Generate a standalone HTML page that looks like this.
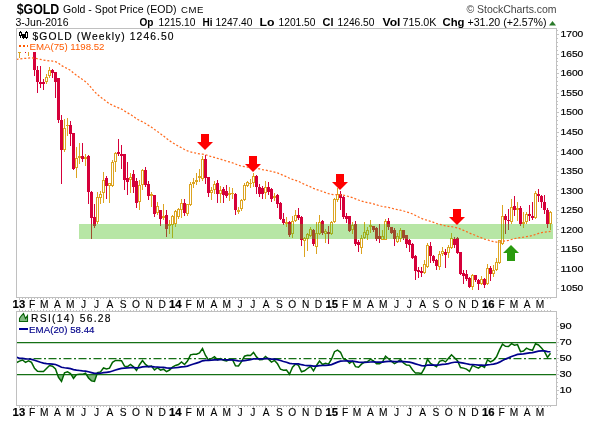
<!DOCTYPE html><html><head><meta charset="utf-8"><style>html,body{margin:0;padding:0;background:#fff;width:600px;height:421px;overflow:hidden}svg{display:block;will-change:transform}text{font-family:"Liberation Sans",sans-serif}</style></head><body>
<svg width="600" height="421" viewBox="0 0 600 421">
<defs><clipPath id="cm"><rect x="17" y="29" width="539" height="268"/></clipPath><clipPath id="cr"><rect x="17" y="312" width="539" height="93"/></clipPath></defs>
<g clip-path="url(#cm)" shape-rendering="crispEdges"><rect x="19" y="40" width="1" height="5" fill="#dca421"/><rect x="19" y="53" width="1" height="5" fill="#dca421"/><path d="M18.5,45.5h2v7h-2z" fill="none" stroke="#dca421" stroke-width="1"/><rect x="22" y="40" width="1" height="2" fill="#dca421"/><rect x="22" y="48" width="1" height="2" fill="#dca421"/><path d="M21.5,42.5h2v5h-2z" fill="none" stroke="#dca421" stroke-width="1"/><rect x="25" y="40" width="1" height="13" fill="#d5003a"/><rect x="24" y="44" width="3" height="5" fill="#d5003a"/><rect x="28" y="40" width="1" height="5" fill="#dca421"/><rect x="28" y="50" width="1" height="6" fill="#dca421"/><path d="M27.5,45.5h2v4h-2z" fill="none" stroke="#dca421" stroke-width="1"/><rect x="31" y="40" width="1" height="11" fill="#d5003a"/><rect x="30" y="44" width="3" height="5" fill="#d5003a"/><rect x="34" y="40" width="1" height="36" fill="#d5003a"/><rect x="33" y="45" width="3" height="25" fill="#d5003a"/><rect x="37" y="66" width="1" height="27" fill="#d5003a"/><rect x="36" y="70" width="3" height="12" fill="#d5003a"/><rect x="40" y="66" width="1" height="22" fill="#d5003a"/><rect x="39" y="82" width="3" height="2" fill="#d5003a"/><rect x="43" y="79" width="1" height="11" fill="#d5003a"/><rect x="42" y="82" width="3" height="2" fill="#d5003a"/><rect x="46" y="74" width="1" height="3" fill="#dca421"/><rect x="46" y="82" width="1" height="2" fill="#dca421"/><path d="M45.5,77.5h2v4h-2z" fill="none" stroke="#dca421" stroke-width="1"/><rect x="49" y="67" width="1" height="3" fill="#dca421"/><rect x="49" y="76" width="1" height="2" fill="#dca421"/><path d="M48.5,70.5h2v5h-2z" fill="none" stroke="#dca421" stroke-width="1"/><rect x="52" y="69" width="1" height="9" fill="#d5003a"/><rect x="51" y="70" width="3" height="3" fill="#d5003a"/><rect x="55" y="72" width="1" height="26" fill="#d5003a"/><rect x="54" y="72" width="3" height="10" fill="#d5003a"/><rect x="58" y="78" width="1" height="45" fill="#d5003a"/><rect x="57" y="78" width="3" height="42" fill="#d5003a"/><rect x="61" y="115" width="1" height="69" fill="#d5003a"/><rect x="60" y="120" width="3" height="30" fill="#d5003a"/><rect x="64" y="119" width="1" height="9" fill="#dca421"/><rect x="64" y="150" width="1" height="2" fill="#dca421"/><path d="M63.5,128.5h2v21h-2z" fill="none" stroke="#dca421" stroke-width="1"/><rect x="67" y="118" width="1" height="7" fill="#dca421"/><rect x="67" y="126" width="1" height="10" fill="#dca421"/><rect x="66" y="125" width="3" height="1" fill="#dca421"/><rect x="70" y="121" width="1" height="25" fill="#d5003a"/><rect x="69" y="125" width="3" height="9" fill="#d5003a"/><rect x="73" y="133" width="1" height="37" fill="#d5003a"/><rect x="72" y="133" width="3" height="36" fill="#d5003a"/><rect x="76" y="147" width="1" height="11" fill="#dca421"/><rect x="76" y="168" width="1" height="10" fill="#dca421"/><path d="M75.5,158.5h2v9h-2z" fill="none" stroke="#dca421" stroke-width="1"/><rect x="79" y="143" width="1" height="13" fill="#dca421"/><rect x="79" y="158" width="1" height="6" fill="#dca421"/><rect x="78" y="156" width="3" height="2" fill="#dca421"/><rect x="82" y="143" width="1" height="19" fill="#d5003a"/><rect x="81" y="156" width="3" height="3" fill="#d5003a"/><rect x="85" y="154" width="1" height="3" fill="#dca421"/><rect x="85" y="159" width="1" height="7" fill="#dca421"/><rect x="84" y="157" width="3" height="2" fill="#dca421"/><rect x="88" y="155" width="1" height="49" fill="#d5003a"/><rect x="87" y="156" width="3" height="36" fill="#d5003a"/><rect x="91" y="191" width="1" height="48" fill="#d5003a"/><rect x="90" y="192" width="3" height="26" fill="#d5003a"/><rect x="94" y="204" width="1" height="24" fill="#d5003a"/><rect x="93" y="217" width="3" height="9" fill="#d5003a"/><rect x="97" y="192" width="1" height="5" fill="#dca421"/><rect x="97" y="222" width="1" height="2" fill="#dca421"/><path d="M96.5,197.5h2v24h-2z" fill="none" stroke="#dca421" stroke-width="1"/><rect x="100" y="191" width="1" height="3" fill="#dca421"/><rect x="100" y="198" width="1" height="6" fill="#dca421"/><path d="M99.5,194.5h2v3h-2z" fill="none" stroke="#dca421" stroke-width="1"/><rect x="103" y="172" width="1" height="8" fill="#dca421"/><rect x="103" y="193" width="1" height="10" fill="#dca421"/><path d="M102.5,180.5h2v12h-2z" fill="none" stroke="#dca421" stroke-width="1"/><rect x="106" y="176" width="1" height="23" fill="#d5003a"/><rect x="105" y="178" width="3" height="8" fill="#d5003a"/><rect x="109" y="186" width="1" height="17" fill="#dca421"/><path d="M108.5,183.5h2v2h-2z" fill="none" stroke="#dca421" stroke-width="1"/><rect x="112" y="160" width="1" height="2" fill="#dca421"/><rect x="112" y="186" width="1" height="1" fill="#dca421"/><path d="M111.5,162.5h2v23h-2z" fill="none" stroke="#dca421" stroke-width="1"/><rect x="115" y="152" width="1" height="1" fill="#dca421"/><rect x="115" y="162" width="1" height="10" fill="#dca421"/><path d="M114.5,153.5h2v8h-2z" fill="none" stroke="#dca421" stroke-width="1"/><rect x="118" y="139" width="1" height="17" fill="#d5003a"/><rect x="117" y="152" width="3" height="2" fill="#d5003a"/><rect x="121" y="145" width="1" height="24" fill="#d5003a"/><rect x="120" y="154" width="3" height="2" fill="#d5003a"/><rect x="124" y="154" width="1" height="36" fill="#d5003a"/><rect x="123" y="154" width="3" height="26" fill="#d5003a"/><rect x="127" y="162" width="1" height="33" fill="#d5003a"/><rect x="126" y="178" width="3" height="4" fill="#d5003a"/><rect x="130" y="173" width="1" height="4" fill="#dca421"/><rect x="130" y="180" width="1" height="13" fill="#dca421"/><path d="M129.5,177.5h2v2h-2z" fill="none" stroke="#dca421" stroke-width="1"/><rect x="133" y="170" width="1" height="23" fill="#d5003a"/><rect x="132" y="174" width="3" height="13" fill="#d5003a"/><rect x="136" y="178" width="1" height="30" fill="#d5003a"/><rect x="135" y="181" width="3" height="22" fill="#d5003a"/><rect x="139" y="180" width="1" height="5" fill="#dca421"/><rect x="139" y="202" width="1" height="8" fill="#dca421"/><path d="M138.5,185.5h2v16h-2z" fill="none" stroke="#dca421" stroke-width="1"/><rect x="142" y="169" width="1" height="1" fill="#dca421"/><rect x="142" y="185" width="1" height="5" fill="#dca421"/><path d="M141.5,170.5h2v14h-2z" fill="none" stroke="#dca421" stroke-width="1"/><rect x="145" y="167" width="1" height="20" fill="#d5003a"/><rect x="144" y="170" width="3" height="15" fill="#d5003a"/><rect x="148" y="181" width="1" height="19" fill="#d5003a"/><rect x="147" y="184" width="3" height="12" fill="#d5003a"/><rect x="151" y="192" width="1" height="2" fill="#dca421"/><rect x="151" y="196" width="1" height="11" fill="#dca421"/><rect x="150" y="194" width="3" height="2" fill="#dca421"/><rect x="154" y="195" width="1" height="22" fill="#d5003a"/><rect x="153" y="195" width="3" height="19" fill="#d5003a"/><rect x="157" y="202" width="1" height="4" fill="#dca421"/><rect x="157" y="213" width="1" height="2" fill="#dca421"/><path d="M156.5,206.5h2v6h-2z" fill="none" stroke="#dca421" stroke-width="1"/><rect x="160" y="210" width="1" height="16" fill="#d5003a"/><rect x="159" y="210" width="3" height="9" fill="#d5003a"/><rect x="163" y="204" width="1" height="12" fill="#dca421"/><rect x="163" y="218" width="1" height="2" fill="#dca421"/><rect x="162" y="216" width="3" height="2" fill="#dca421"/><rect x="166" y="210" width="1" height="27" fill="#d5003a"/><rect x="165" y="215" width="3" height="14" fill="#d5003a"/><rect x="169" y="220" width="1" height="4" fill="#dca421"/><rect x="169" y="226" width="1" height="8" fill="#dca421"/><rect x="168" y="224" width="3" height="2" fill="#dca421"/><rect x="172" y="215" width="1" height="1" fill="#dca421"/><rect x="172" y="225" width="1" height="13" fill="#dca421"/><path d="M171.5,216.5h2v8h-2z" fill="none" stroke="#dca421" stroke-width="1"/><rect x="175" y="210" width="1" height="1" fill="#dca421"/><rect x="175" y="224" width="1" height="3" fill="#dca421"/><path d="M174.5,211.5h2v12h-2z" fill="none" stroke="#dca421" stroke-width="1"/><rect x="178" y="208" width="1" height="1" fill="#dca421"/><rect x="178" y="217" width="1" height="2" fill="#dca421"/><path d="M177.5,209.5h2v7h-2z" fill="none" stroke="#dca421" stroke-width="1"/><rect x="181" y="199" width="1" height="4" fill="#dca421"/><rect x="181" y="210" width="1" height="8" fill="#dca421"/><path d="M180.5,203.5h2v6h-2z" fill="none" stroke="#dca421" stroke-width="1"/><rect x="184" y="199" width="1" height="17" fill="#d5003a"/><rect x="183" y="203" width="3" height="10" fill="#d5003a"/><rect x="187" y="214" width="1" height="2" fill="#dca421"/><path d="M186.5,204.5h2v9h-2z" fill="none" stroke="#dca421" stroke-width="1"/><rect x="190" y="182" width="1" height="2" fill="#dca421"/><rect x="190" y="205" width="1" height="1" fill="#dca421"/><path d="M189.5,184.5h2v20h-2z" fill="none" stroke="#dca421" stroke-width="1"/><rect x="193" y="178" width="1" height="4" fill="#dca421"/><rect x="193" y="184" width="1" height="4" fill="#dca421"/><rect x="192" y="182" width="3" height="2" fill="#dca421"/><rect x="196" y="173" width="1" height="7" fill="#dca421"/><rect x="196" y="182" width="1" height="3" fill="#dca421"/><rect x="195" y="180" width="3" height="2" fill="#dca421"/><rect x="199" y="169" width="1" height="7" fill="#dca421"/><rect x="199" y="178" width="1" height="4" fill="#dca421"/><rect x="198" y="176" width="3" height="2" fill="#dca421"/><rect x="202" y="156" width="1" height="3" fill="#dca421"/><rect x="202" y="179" width="1" height="2" fill="#dca421"/><path d="M201.5,159.5h2v19h-2z" fill="none" stroke="#dca421" stroke-width="1"/><rect x="205" y="155" width="1" height="29" fill="#d5003a"/><rect x="204" y="159" width="3" height="19" fill="#d5003a"/><rect x="208" y="177" width="1" height="20" fill="#d5003a"/><rect x="207" y="177" width="3" height="16" fill="#d5003a"/><rect x="211" y="187" width="1" height="3" fill="#dca421"/><rect x="211" y="193" width="1" height="7" fill="#dca421"/><path d="M210.5,190.5h2v2h-2z" fill="none" stroke="#dca421" stroke-width="1"/><rect x="214" y="181" width="1" height="3" fill="#dca421"/><rect x="214" y="190" width="1" height="4" fill="#dca421"/><path d="M213.5,184.5h2v5h-2z" fill="none" stroke="#dca421" stroke-width="1"/><rect x="217" y="180" width="1" height="23" fill="#d5003a"/><rect x="216" y="183" width="3" height="11" fill="#d5003a"/><rect x="220" y="186" width="1" height="4" fill="#dca421"/><rect x="220" y="194" width="1" height="9" fill="#dca421"/><path d="M219.5,190.5h2v3h-2z" fill="none" stroke="#dca421" stroke-width="1"/><rect x="223" y="187" width="1" height="16" fill="#d5003a"/><rect x="222" y="189" width="3" height="6" fill="#d5003a"/><rect x="226" y="185" width="1" height="13" fill="#d5003a"/><rect x="225" y="191" width="3" height="5" fill="#d5003a"/><rect x="229" y="187" width="1" height="6" fill="#dca421"/><rect x="229" y="195" width="1" height="6" fill="#dca421"/><rect x="228" y="193" width="3" height="2" fill="#dca421"/><rect x="232" y="188" width="1" height="5" fill="#dca421"/><rect x="232" y="194" width="1" height="5" fill="#dca421"/><rect x="231" y="193" width="3" height="1" fill="#dca421"/><rect x="235" y="193" width="1" height="22" fill="#d5003a"/><rect x="234" y="194" width="3" height="16" fill="#d5003a"/><rect x="238" y="207" width="1" height="3" fill="#dca421"/><rect x="238" y="212" width="1" height="2" fill="#dca421"/><rect x="237" y="210" width="3" height="2" fill="#dca421"/><rect x="241" y="199" width="1" height="1" fill="#dca421"/><rect x="241" y="209" width="1" height="2" fill="#dca421"/><path d="M240.5,200.5h2v8h-2z" fill="none" stroke="#dca421" stroke-width="1"/><rect x="244" y="183" width="1" height="2" fill="#dca421"/><rect x="244" y="200" width="1" height="1" fill="#dca421"/><path d="M243.5,185.5h2v14h-2z" fill="none" stroke="#dca421" stroke-width="1"/><rect x="247" y="181" width="1" height="1" fill="#dca421"/><rect x="247" y="186" width="1" height="1" fill="#dca421"/><path d="M246.5,182.5h2v3h-2z" fill="none" stroke="#dca421" stroke-width="1"/><rect x="250" y="179" width="1" height="4" fill="#dca421"/><rect x="250" y="184" width="1" height="4" fill="#dca421"/><rect x="249" y="183" width="3" height="1" fill="#dca421"/><rect x="253" y="173" width="1" height="3" fill="#dca421"/><rect x="253" y="183" width="1" height="4" fill="#dca421"/><path d="M252.5,176.5h2v6h-2z" fill="none" stroke="#dca421" stroke-width="1"/><rect x="256" y="175" width="1" height="19" fill="#d5003a"/><rect x="255" y="176" width="3" height="11" fill="#d5003a"/><rect x="259" y="184" width="1" height="13" fill="#d5003a"/><rect x="258" y="187" width="3" height="7" fill="#d5003a"/><rect x="262" y="186" width="1" height="13" fill="#d5003a"/><rect x="261" y="188" width="3" height="6" fill="#d5003a"/><rect x="265" y="181" width="1" height="6" fill="#dca421"/><rect x="265" y="193" width="1" height="6" fill="#dca421"/><path d="M264.5,187.5h2v5h-2z" fill="none" stroke="#dca421" stroke-width="1"/><rect x="268" y="182" width="1" height="13" fill="#d5003a"/><rect x="267" y="187" width="3" height="5" fill="#d5003a"/><rect x="271" y="188" width="1" height="14" fill="#d5003a"/><rect x="270" y="189" width="3" height="10" fill="#d5003a"/><rect x="274" y="193" width="1" height="3" fill="#dca421"/><rect x="274" y="198" width="1" height="3" fill="#dca421"/><rect x="273" y="196" width="3" height="2" fill="#dca421"/><rect x="277" y="194" width="1" height="14" fill="#d5003a"/><rect x="276" y="195" width="3" height="9" fill="#d5003a"/><rect x="280" y="202" width="1" height="18" fill="#d5003a"/><rect x="279" y="203" width="3" height="16" fill="#d5003a"/><rect x="283" y="213" width="1" height="12" fill="#d5003a"/><rect x="282" y="219" width="3" height="4" fill="#d5003a"/><rect x="286" y="217" width="1" height="5" fill="#dca421"/><rect x="286" y="224" width="1" height="3" fill="#dca421"/><rect x="285" y="222" width="3" height="2" fill="#dca421"/><rect x="289" y="221" width="1" height="16" fill="#d5003a"/><rect x="288" y="222" width="3" height="13" fill="#d5003a"/><rect x="292" y="216" width="1" height="5" fill="#dca421"/><rect x="292" y="234" width="1" height="4" fill="#dca421"/><path d="M291.5,221.5h2v12h-2z" fill="none" stroke="#dca421" stroke-width="1"/><rect x="295" y="210" width="1" height="5" fill="#dca421"/><rect x="295" y="221" width="1" height="1" fill="#dca421"/><path d="M294.5,215.5h2v5h-2z" fill="none" stroke="#dca421" stroke-width="1"/><rect x="298" y="208" width="1" height="12" fill="#d5003a"/><rect x="297" y="215" width="3" height="3" fill="#d5003a"/><rect x="301" y="216" width="1" height="30" fill="#d5003a"/><rect x="300" y="217" width="3" height="23" fill="#d5003a"/><rect x="304" y="237" width="1" height="1" fill="#dca421"/><rect x="304" y="241" width="1" height="16" fill="#dca421"/><path d="M303.5,238.5h2v2h-2z" fill="none" stroke="#dca421" stroke-width="1"/><rect x="307" y="233" width="1" height="1" fill="#dca421"/><rect x="307" y="239" width="1" height="12" fill="#dca421"/><path d="M306.5,234.5h2v4h-2z" fill="none" stroke="#dca421" stroke-width="1"/><rect x="310" y="227" width="1" height="2" fill="#dca421"/><rect x="310" y="236" width="1" height="1" fill="#dca421"/><path d="M309.5,229.5h2v6h-2z" fill="none" stroke="#dca421" stroke-width="1"/><rect x="313" y="229" width="1" height="17" fill="#d5003a"/><rect x="312" y="230" width="3" height="14" fill="#d5003a"/><rect x="316" y="222" width="1" height="11" fill="#dca421"/><rect x="316" y="247" width="1" height="7" fill="#dca421"/><path d="M315.5,233.5h2v13h-2z" fill="none" stroke="#dca421" stroke-width="1"/><rect x="319" y="215" width="1" height="7" fill="#dca421"/><rect x="319" y="234" width="1" height="1" fill="#dca421"/><path d="M318.5,222.5h2v11h-2z" fill="none" stroke="#dca421" stroke-width="1"/><rect x="322" y="220" width="1" height="15" fill="#d5003a"/><rect x="321" y="221" width="3" height="12" fill="#d5003a"/><rect x="325" y="229" width="1" height="2" fill="#dca421"/><rect x="325" y="234" width="1" height="9" fill="#dca421"/><path d="M324.5,231.5h2v2h-2z" fill="none" stroke="#dca421" stroke-width="1"/><rect x="328" y="226" width="1" height="18" fill="#d5003a"/><rect x="327" y="232" width="3" height="2" fill="#d5003a"/><rect x="331" y="221" width="1" height="1" fill="#dca421"/><rect x="331" y="234" width="1" height="1" fill="#dca421"/><path d="M330.5,222.5h2v11h-2z" fill="none" stroke="#dca421" stroke-width="1"/><rect x="334" y="198" width="1" height="1" fill="#dca421"/><rect x="334" y="222" width="1" height="1" fill="#dca421"/><path d="M333.5,199.5h2v22h-2z" fill="none" stroke="#dca421" stroke-width="1"/><rect x="337" y="188" width="1" height="6" fill="#dca421"/><rect x="337" y="200" width="1" height="2" fill="#dca421"/><path d="M336.5,194.5h2v5h-2z" fill="none" stroke="#dca421" stroke-width="1"/><rect x="340" y="191" width="1" height="19" fill="#d5003a"/><rect x="339" y="194" width="3" height="4" fill="#d5003a"/><rect x="343" y="196" width="1" height="23" fill="#d5003a"/><rect x="342" y="197" width="3" height="20" fill="#d5003a"/><rect x="346" y="213" width="1" height="10" fill="#d5003a"/><rect x="345" y="216" width="3" height="3" fill="#d5003a"/><rect x="349" y="216" width="1" height="16" fill="#d5003a"/><rect x="348" y="216" width="3" height="15" fill="#d5003a"/><rect x="352" y="222" width="1" height="3" fill="#dca421"/><rect x="352" y="230" width="1" height="4" fill="#dca421"/><path d="M351.5,225.5h2v4h-2z" fill="none" stroke="#dca421" stroke-width="1"/><rect x="355" y="221" width="1" height="25" fill="#d5003a"/><rect x="354" y="224" width="3" height="20" fill="#d5003a"/><rect x="358" y="240" width="1" height="12" fill="#d5003a"/><rect x="357" y="242" width="3" height="3" fill="#d5003a"/><rect x="361" y="235" width="1" height="3" fill="#dca421"/><rect x="361" y="248" width="1" height="6" fill="#dca421"/><path d="M360.5,238.5h2v9h-2z" fill="none" stroke="#dca421" stroke-width="1"/><rect x="364" y="222" width="1" height="10" fill="#dca421"/><rect x="364" y="238" width="1" height="1" fill="#dca421"/><path d="M363.5,232.5h2v5h-2z" fill="none" stroke="#dca421" stroke-width="1"/><rect x="367" y="227" width="1" height="3" fill="#dca421"/><rect x="367" y="235" width="1" height="5" fill="#dca421"/><path d="M366.5,230.5h2v4h-2z" fill="none" stroke="#dca421" stroke-width="1"/><rect x="370" y="220" width="1" height="5" fill="#dca421"/><rect x="370" y="227" width="1" height="6" fill="#dca421"/><rect x="369" y="225" width="3" height="2" fill="#dca421"/><rect x="373" y="226" width="1" height="6" fill="#d5003a"/><rect x="372" y="226" width="3" height="4" fill="#d5003a"/><rect x="376" y="227" width="1" height="14" fill="#d5003a"/><rect x="375" y="228" width="3" height="11" fill="#d5003a"/><rect x="379" y="224" width="1" height="19" fill="#d5003a"/><rect x="378" y="236" width="3" height="3" fill="#d5003a"/><rect x="382" y="230" width="1" height="6" fill="#dca421"/><path d="M381.5,236.5h2v3h-2z" fill="none" stroke="#dca421" stroke-width="1"/><rect x="385" y="219" width="1" height="2" fill="#dca421"/><path d="M384.5,221.5h2v18h-2z" fill="none" stroke="#dca421" stroke-width="1"/><rect x="388" y="218" width="1" height="12" fill="#d5003a"/><rect x="387" y="221" width="3" height="6" fill="#d5003a"/><rect x="391" y="227" width="1" height="7" fill="#d5003a"/><rect x="390" y="227" width="3" height="6" fill="#d5003a"/><rect x="394" y="228" width="1" height="18" fill="#d5003a"/><rect x="393" y="230" width="3" height="9" fill="#d5003a"/><rect x="397" y="233" width="1" height="3" fill="#dca421"/><rect x="397" y="242" width="1" height="1" fill="#dca421"/><path d="M396.5,236.5h2v5h-2z" fill="none" stroke="#dca421" stroke-width="1"/><rect x="400" y="228" width="1" height="2" fill="#dca421"/><rect x="400" y="239" width="1" height="3" fill="#dca421"/><path d="M399.5,230.5h2v8h-2z" fill="none" stroke="#dca421" stroke-width="1"/><rect x="403" y="230" width="1" height="10" fill="#d5003a"/><rect x="402" y="230" width="3" height="8" fill="#d5003a"/><rect x="406" y="235" width="1" height="13" fill="#d5003a"/><rect x="405" y="235" width="3" height="9" fill="#d5003a"/><rect x="409" y="239" width="1" height="13" fill="#d5003a"/><rect x="408" y="240" width="3" height="5" fill="#d5003a"/><rect x="412" y="243" width="1" height="16" fill="#d5003a"/><rect x="411" y="244" width="3" height="14" fill="#d5003a"/><rect x="415" y="255" width="1" height="25" fill="#d5003a"/><rect x="414" y="256" width="3" height="15" fill="#d5003a"/><rect x="418" y="267" width="1" height="11" fill="#d5003a"/><rect x="417" y="270" width="3" height="2" fill="#d5003a"/><rect x="421" y="267" width="1" height="10" fill="#d5003a"/><rect x="420" y="271" width="3" height="2" fill="#d5003a"/><rect x="424" y="260" width="1" height="4" fill="#dca421"/><rect x="424" y="273" width="1" height="1" fill="#dca421"/><path d="M423.5,264.5h2v8h-2z" fill="none" stroke="#dca421" stroke-width="1"/><rect x="427" y="243" width="1" height="2" fill="#dca421"/><rect x="427" y="267" width="1" height="1" fill="#dca421"/><path d="M426.5,245.5h2v21h-2z" fill="none" stroke="#dca421" stroke-width="1"/><rect x="430" y="242" width="1" height="21" fill="#d5003a"/><rect x="429" y="246" width="3" height="10" fill="#d5003a"/><rect x="433" y="255" width="1" height="8" fill="#d5003a"/><rect x="432" y="256" width="3" height="5" fill="#d5003a"/><rect x="436" y="259" width="1" height="11" fill="#d5003a"/><rect x="435" y="260" width="3" height="6" fill="#d5003a"/><rect x="439" y="251" width="1" height="3" fill="#dca421"/><rect x="439" y="267" width="1" height="3" fill="#dca421"/><path d="M438.5,254.5h2v12h-2z" fill="none" stroke="#dca421" stroke-width="1"/><rect x="442" y="247" width="1" height="4" fill="#dca421"/><rect x="442" y="254" width="1" height="2" fill="#dca421"/><path d="M441.5,251.5h2v2h-2z" fill="none" stroke="#dca421" stroke-width="1"/><rect x="445" y="249" width="1" height="19" fill="#d5003a"/><rect x="444" y="252" width="3" height="3" fill="#d5003a"/><rect x="448" y="245" width="1" height="2" fill="#dca421"/><rect x="448" y="253" width="1" height="5" fill="#dca421"/><path d="M447.5,247.5h2v5h-2z" fill="none" stroke="#dca421" stroke-width="1"/><rect x="451" y="233" width="1" height="5" fill="#dca421"/><rect x="451" y="248" width="1" height="1" fill="#dca421"/><path d="M450.5,238.5h2v9h-2z" fill="none" stroke="#dca421" stroke-width="1"/><rect x="454" y="237" width="1" height="11" fill="#d5003a"/><rect x="453" y="239" width="3" height="6" fill="#d5003a"/><rect x="457" y="237" width="1" height="17" fill="#d5003a"/><rect x="456" y="238" width="3" height="15" fill="#d5003a"/><rect x="460" y="252" width="1" height="23" fill="#d5003a"/><rect x="459" y="252" width="3" height="22" fill="#d5003a"/><rect x="463" y="270" width="1" height="14" fill="#d5003a"/><rect x="462" y="273" width="3" height="3" fill="#d5003a"/><rect x="466" y="270" width="1" height="11" fill="#d5003a"/><rect x="465" y="274" width="3" height="5" fill="#d5003a"/><rect x="469" y="277" width="1" height="11" fill="#d5003a"/><rect x="468" y="278" width="3" height="9" fill="#d5003a"/><rect x="472" y="274" width="1" height="1" fill="#dca421"/><rect x="472" y="287" width="1" height="3" fill="#dca421"/><path d="M471.5,275.5h2v11h-2z" fill="none" stroke="#dca421" stroke-width="1"/><rect x="475" y="275" width="1" height="7" fill="#d5003a"/><rect x="474" y="275" width="3" height="5" fill="#d5003a"/><rect x="478" y="279" width="1" height="11" fill="#d5003a"/><rect x="477" y="280" width="3" height="4" fill="#d5003a"/><rect x="481" y="276" width="1" height="3" fill="#dca421"/><rect x="481" y="284" width="1" height="1" fill="#dca421"/><path d="M480.5,279.5h2v4h-2z" fill="none" stroke="#dca421" stroke-width="1"/><rect x="484" y="278" width="1" height="10" fill="#d5003a"/><rect x="483" y="279" width="3" height="6" fill="#d5003a"/><rect x="487" y="264" width="1" height="4" fill="#dca421"/><rect x="487" y="284" width="1" height="1" fill="#dca421"/><path d="M486.5,268.5h2v15h-2z" fill="none" stroke="#dca421" stroke-width="1"/><rect x="490" y="266" width="1" height="15" fill="#d5003a"/><rect x="489" y="268" width="3" height="6" fill="#d5003a"/><rect x="493" y="265" width="1" height="5" fill="#dca421"/><rect x="493" y="274" width="1" height="3" fill="#dca421"/><path d="M492.5,270.5h2v3h-2z" fill="none" stroke="#dca421" stroke-width="1"/><rect x="496" y="258" width="1" height="4" fill="#dca421"/><rect x="496" y="270" width="1" height="1" fill="#dca421"/><path d="M495.5,262.5h2v7h-2z" fill="none" stroke="#dca421" stroke-width="1"/><rect x="499" y="263" width="1" height="1" fill="#dca421"/><path d="M498.5,240.5h2v22h-2z" fill="none" stroke="#dca421" stroke-width="1"/><rect x="502" y="205" width="1" height="11" fill="#dca421"/><rect x="502" y="244" width="1" height="1" fill="#dca421"/><path d="M501.5,216.5h2v27h-2z" fill="none" stroke="#dca421" stroke-width="1"/><rect x="505" y="214" width="1" height="20" fill="#d5003a"/><rect x="504" y="216" width="3" height="4" fill="#d5003a"/><rect x="508" y="209" width="1" height="21" fill="#d5003a"/><rect x="507" y="220" width="3" height="1" fill="#d5003a"/><rect x="511" y="199" width="1" height="8" fill="#dca421"/><rect x="511" y="222" width="1" height="2" fill="#dca421"/><path d="M510.5,207.5h2v14h-2z" fill="none" stroke="#dca421" stroke-width="1"/><rect x="514" y="196" width="1" height="20" fill="#d5003a"/><rect x="513" y="206" width="3" height="4" fill="#d5003a"/><rect x="517" y="202" width="1" height="6" fill="#dca421"/><rect x="517" y="210" width="1" height="11" fill="#dca421"/><rect x="516" y="208" width="3" height="2" fill="#dca421"/><rect x="520" y="206" width="1" height="20" fill="#d5003a"/><rect x="519" y="208" width="3" height="16" fill="#d5003a"/><rect x="523" y="212" width="1" height="10" fill="#dca421"/><rect x="523" y="224" width="1" height="4" fill="#dca421"/><rect x="522" y="222" width="3" height="2" fill="#dca421"/><rect x="526" y="212" width="1" height="2" fill="#dca421"/><rect x="526" y="222" width="1" height="2" fill="#dca421"/><path d="M525.5,214.5h2v7h-2z" fill="none" stroke="#dca421" stroke-width="1"/><rect x="529" y="205" width="1" height="16" fill="#d5003a"/><rect x="528" y="214" width="3" height="2" fill="#d5003a"/><rect x="532" y="202" width="1" height="18" fill="#d5003a"/><rect x="531" y="216" width="3" height="2" fill="#d5003a"/><rect x="535" y="191" width="1" height="2" fill="#dca421"/><rect x="535" y="218" width="1" height="1" fill="#dca421"/><path d="M534.5,193.5h2v24h-2z" fill="none" stroke="#dca421" stroke-width="1"/><rect x="538" y="189" width="1" height="13" fill="#d5003a"/><rect x="537" y="194" width="3" height="2" fill="#d5003a"/><rect x="541" y="195" width="1" height="13" fill="#d5003a"/><rect x="540" y="196" width="3" height="6" fill="#d5003a"/><rect x="544" y="195" width="1" height="19" fill="#d5003a"/><rect x="543" y="202" width="3" height="8" fill="#d5003a"/><rect x="547" y="208" width="1" height="20" fill="#d5003a"/><rect x="546" y="210" width="3" height="14" fill="#d5003a"/><rect x="550" y="211" width="1" height="1" fill="#dca421"/><rect x="550" y="224" width="1" height="6" fill="#dca421"/><path d="M549.5,212.5h2v11h-2z" fill="none" stroke="#dca421" stroke-width="1"/></g>
<rect x="79" y="224" width="474" height="15" fill="rgb(76,192,30)" fill-opacity="0.4" shape-rendering="crispEdges"/>
<polyline points="16.5,59.3 19.5,59.03 22.5,58.59 25.5,58.35 28.5,58.01 31.5,57.78 34.5,58.10 37.5,58.76 40.5,59.42 43.5,60.06 46.5,60.52 49.5,60.79 52.5,61.12 55.5,61.67 58.5,63.23 61.5,65.54 64.5,67.19 67.5,68.72 70.5,70.44 73.5,73.04 76.5,75.27 79.5,77.42 82.5,79.58 85.5,81.63 88.5,84.56 91.5,88.09 94.5,91.72 97.5,94.50 100.5,97.11 103.5,99.29 106.5,101.60 109.5,103.75 112.5,105.29 115.5,106.56 118.5,107.81 121.5,109.07 124.5,110.95 127.5,112.83 130.5,114.53 133.5,116.45 136.5,118.73 139.5,120.49 142.5,121.80 145.5,123.48 148.5,125.40 151.5,127.21 154.5,129.51 157.5,131.53 160.5,133.84 163.5,136.01 166.5,138.47 169.5,140.73 172.5,142.72 175.5,144.53 178.5,146.24 181.5,147.74 184.5,149.47 187.5,150.92 190.5,151.80 193.5,152.60 196.5,153.33 199.5,153.93 202.5,154.07 205.5,154.73 208.5,155.74 211.5,156.65 214.5,157.39 217.5,158.36 220.5,159.20 223.5,160.15 226.5,161.11 229.5,161.96 232.5,162.79 235.5,164.04 238.5,165.26 241.5,166.18 244.5,166.69 247.5,167.10 250.5,167.53 253.5,167.77 256.5,168.28 259.5,168.97 262.5,169.64 265.5,170.11 268.5,170.69 271.5,171.45 274.5,172.10 277.5,172.95 280.5,174.18 283.5,175.47 286.5,176.71 289.5,178.25 292.5,179.39 295.5,180.33 298.5,181.34 301.5,182.89 304.5,184.35 307.5,185.67 310.5,186.82 313.5,188.33 316.5,189.52 319.5,190.39 322.5,191.52 325.5,192.57 328.5,193.67 331.5,194.42 334.5,194.56 337.5,194.54 340.5,194.63 343.5,195.23 346.5,195.86 349.5,196.80 352.5,197.55 355.5,198.80 358.5,200.02 361.5,201.02 364.5,201.83 367.5,202.58 370.5,203.18 373.5,203.89 376.5,204.82 379.5,205.73 382.5,206.53 385.5,206.92 388.5,207.46 391.5,208.14 394.5,208.96 397.5,209.67 400.5,210.23 403.5,210.98 406.5,211.86 409.5,212.75 412.5,213.95 415.5,215.46 418.5,216.96 421.5,218.44 424.5,219.65 427.5,220.33 430.5,221.28 433.5,222.33 436.5,223.49 439.5,224.31 442.5,225.02 445.5,225.82 448.5,226.39 451.5,226.70 454.5,227.20 457.5,227.89 460.5,229.11 463.5,230.35 466.5,231.64 469.5,233.11 472.5,234.22 475.5,235.44 478.5,236.73 481.5,237.85 484.5,239.10 487.5,239.87 490.5,240.80 493.5,241.59 496.5,242.14 499.5,242.10 502.5,241.41 505.5,240.86 508.5,240.35 511.5,239.48 514.5,238.73 517.5,237.94 520.5,237.60 523.5,237.19 526.5,236.59 529.5,236.07 532.5,235.59 535.5,234.48 538.5,233.47 541.5,232.64 544.5,232.04 547.5,231.85 550.5,231.34" fill="none" stroke="#ff6a1e" stroke-width="1.25" stroke-dasharray="2,1.9" clip-path="url(#cm)"/>
<rect x="17" y="29" width="158" height="23" fill="#fff"/>
<g shape-rendering="crispEdges"><rect x="19" y="32" width="3" height="4" fill="#000"/><rect x="20" y="33" width="1" height="2" fill="#fff"/><rect x="20" y="31" width="1" height="1" fill="#000"/><rect x="20" y="36" width="1" height="2" fill="#000"/><rect x="22" y="34" width="3" height="4" fill="#000"/><rect x="23" y="38" width="1" height="1" fill="#000"/><rect x="25" y="32" width="3" height="6" fill="#000"/><rect x="26" y="33" width="1" height="4" fill="#fff"/><rect x="26" y="31" width="1" height="1" fill="#000"/><rect x="26" y="38" width="1" height="1" fill="#000"/></g>
<g fill="#ff5a00" shape-rendering="crispEdges"><rect x="19" y="45" width="2" height="2"/><rect x="23" y="45" width="2" height="2"/><rect x="27" y="45" width="1" height="2"/></g>
<path d="M201,134h8v8h4l-8,8l-8,-8h4z" fill="#ff0000"/>
<path d="M249,156h8v8h4l-8,8l-8,-8h4z" fill="#ff0000"/>
<path d="M336,174h8v8h4l-8,8l-8,-8h4z" fill="#ff0000"/>
<path d="M453,209h8v8h4l-8,8l-8,-8h4z" fill="#ff0000"/>
<path d="M511,245l8,8h-4v8h-8v-8h-4z" fill="#2a9a0e"/>
<g fill="none" stroke="#c0c0c0" stroke-width="1" shape-rendering="crispEdges">
<rect x="16.5" y="28.5" width="540" height="269"/>
<rect x="16.5" y="311.5" width="540" height="94"/>
</g>
<g fill="#c0c0c0" shape-rendering="crispEdges"><rect x="19" y="298" width="1" height="2"/><rect x="19" y="309" width="1" height="2"/><rect x="19" y="406" width="1" height="2"/><rect x="22" y="298" width="1" height="1"/><rect x="22" y="310" width="1" height="1"/><rect x="22" y="406" width="1" height="1"/><rect x="25" y="298" width="1" height="1"/><rect x="25" y="310" width="1" height="1"/><rect x="25" y="406" width="1" height="1"/><rect x="28" y="298" width="1" height="1"/><rect x="28" y="310" width="1" height="1"/><rect x="28" y="406" width="1" height="1"/><rect x="31" y="298" width="1" height="2"/><rect x="31" y="309" width="1" height="2"/><rect x="31" y="406" width="1" height="2"/><rect x="34" y="298" width="1" height="1"/><rect x="34" y="310" width="1" height="1"/><rect x="34" y="406" width="1" height="1"/><rect x="37" y="298" width="1" height="1"/><rect x="37" y="310" width="1" height="1"/><rect x="37" y="406" width="1" height="1"/><rect x="40" y="298" width="1" height="1"/><rect x="40" y="310" width="1" height="1"/><rect x="40" y="406" width="1" height="1"/><rect x="43" y="298" width="1" height="2"/><rect x="43" y="309" width="1" height="2"/><rect x="43" y="406" width="1" height="2"/><rect x="46" y="298" width="1" height="1"/><rect x="46" y="310" width="1" height="1"/><rect x="46" y="406" width="1" height="1"/><rect x="49" y="298" width="1" height="1"/><rect x="49" y="310" width="1" height="1"/><rect x="49" y="406" width="1" height="1"/><rect x="52" y="298" width="1" height="1"/><rect x="52" y="310" width="1" height="1"/><rect x="52" y="406" width="1" height="1"/><rect x="55" y="298" width="1" height="2"/><rect x="55" y="309" width="1" height="2"/><rect x="55" y="406" width="1" height="2"/><rect x="58" y="298" width="1" height="1"/><rect x="58" y="310" width="1" height="1"/><rect x="58" y="406" width="1" height="1"/><rect x="61" y="298" width="1" height="1"/><rect x="61" y="310" width="1" height="1"/><rect x="61" y="406" width="1" height="1"/><rect x="64" y="298" width="1" height="1"/><rect x="64" y="310" width="1" height="1"/><rect x="64" y="406" width="1" height="1"/><rect x="67" y="298" width="1" height="1"/><rect x="67" y="310" width="1" height="1"/><rect x="67" y="406" width="1" height="1"/><rect x="70" y="298" width="1" height="2"/><rect x="70" y="309" width="1" height="2"/><rect x="70" y="406" width="1" height="2"/><rect x="73" y="298" width="1" height="1"/><rect x="73" y="310" width="1" height="1"/><rect x="73" y="406" width="1" height="1"/><rect x="76" y="298" width="1" height="1"/><rect x="76" y="310" width="1" height="1"/><rect x="76" y="406" width="1" height="1"/><rect x="79" y="298" width="1" height="1"/><rect x="79" y="310" width="1" height="1"/><rect x="79" y="406" width="1" height="1"/><rect x="82" y="298" width="1" height="2"/><rect x="82" y="309" width="1" height="2"/><rect x="82" y="406" width="1" height="2"/><rect x="85" y="298" width="1" height="1"/><rect x="85" y="310" width="1" height="1"/><rect x="85" y="406" width="1" height="1"/><rect x="88" y="298" width="1" height="1"/><rect x="88" y="310" width="1" height="1"/><rect x="88" y="406" width="1" height="1"/><rect x="91" y="298" width="1" height="1"/><rect x="91" y="310" width="1" height="1"/><rect x="91" y="406" width="1" height="1"/><rect x="94" y="298" width="1" height="2"/><rect x="94" y="309" width="1" height="2"/><rect x="94" y="406" width="1" height="2"/><rect x="97" y="298" width="1" height="1"/><rect x="97" y="310" width="1" height="1"/><rect x="97" y="406" width="1" height="1"/><rect x="100" y="298" width="1" height="1"/><rect x="100" y="310" width="1" height="1"/><rect x="100" y="406" width="1" height="1"/><rect x="103" y="298" width="1" height="1"/><rect x="103" y="310" width="1" height="1"/><rect x="103" y="406" width="1" height="1"/><rect x="106" y="298" width="1" height="1"/><rect x="106" y="310" width="1" height="1"/><rect x="106" y="406" width="1" height="1"/><rect x="109" y="298" width="1" height="2"/><rect x="109" y="309" width="1" height="2"/><rect x="109" y="406" width="1" height="2"/><rect x="112" y="298" width="1" height="1"/><rect x="112" y="310" width="1" height="1"/><rect x="112" y="406" width="1" height="1"/><rect x="115" y="298" width="1" height="1"/><rect x="115" y="310" width="1" height="1"/><rect x="115" y="406" width="1" height="1"/><rect x="118" y="298" width="1" height="1"/><rect x="118" y="310" width="1" height="1"/><rect x="118" y="406" width="1" height="1"/><rect x="121" y="298" width="1" height="2"/><rect x="121" y="309" width="1" height="2"/><rect x="121" y="406" width="1" height="2"/><rect x="124" y="298" width="1" height="1"/><rect x="124" y="310" width="1" height="1"/><rect x="124" y="406" width="1" height="1"/><rect x="127" y="298" width="1" height="1"/><rect x="127" y="310" width="1" height="1"/><rect x="127" y="406" width="1" height="1"/><rect x="130" y="298" width="1" height="1"/><rect x="130" y="310" width="1" height="1"/><rect x="130" y="406" width="1" height="1"/><rect x="133" y="298" width="1" height="1"/><rect x="133" y="310" width="1" height="1"/><rect x="133" y="406" width="1" height="1"/><rect x="136" y="298" width="1" height="2"/><rect x="136" y="309" width="1" height="2"/><rect x="136" y="406" width="1" height="2"/><rect x="139" y="298" width="1" height="1"/><rect x="139" y="310" width="1" height="1"/><rect x="139" y="406" width="1" height="1"/><rect x="142" y="298" width="1" height="1"/><rect x="142" y="310" width="1" height="1"/><rect x="142" y="406" width="1" height="1"/><rect x="145" y="298" width="1" height="1"/><rect x="145" y="310" width="1" height="1"/><rect x="145" y="406" width="1" height="1"/><rect x="148" y="298" width="1" height="2"/><rect x="148" y="309" width="1" height="2"/><rect x="148" y="406" width="1" height="2"/><rect x="151" y="298" width="1" height="1"/><rect x="151" y="310" width="1" height="1"/><rect x="151" y="406" width="1" height="1"/><rect x="154" y="298" width="1" height="1"/><rect x="154" y="310" width="1" height="1"/><rect x="154" y="406" width="1" height="1"/><rect x="157" y="298" width="1" height="1"/><rect x="157" y="310" width="1" height="1"/><rect x="157" y="406" width="1" height="1"/><rect x="160" y="298" width="1" height="2"/><rect x="160" y="309" width="1" height="2"/><rect x="160" y="406" width="1" height="2"/><rect x="163" y="298" width="1" height="1"/><rect x="163" y="310" width="1" height="1"/><rect x="163" y="406" width="1" height="1"/><rect x="166" y="298" width="1" height="1"/><rect x="166" y="310" width="1" height="1"/><rect x="166" y="406" width="1" height="1"/><rect x="169" y="298" width="1" height="1"/><rect x="169" y="310" width="1" height="1"/><rect x="169" y="406" width="1" height="1"/><rect x="172" y="298" width="1" height="1"/><rect x="172" y="310" width="1" height="1"/><rect x="172" y="406" width="1" height="1"/><rect x="175" y="298" width="1" height="2"/><rect x="175" y="309" width="1" height="2"/><rect x="175" y="406" width="1" height="2"/><rect x="178" y="298" width="1" height="1"/><rect x="178" y="310" width="1" height="1"/><rect x="178" y="406" width="1" height="1"/><rect x="181" y="298" width="1" height="1"/><rect x="181" y="310" width="1" height="1"/><rect x="181" y="406" width="1" height="1"/><rect x="184" y="298" width="1" height="1"/><rect x="184" y="310" width="1" height="1"/><rect x="184" y="406" width="1" height="1"/><rect x="187" y="298" width="1" height="2"/><rect x="187" y="309" width="1" height="2"/><rect x="187" y="406" width="1" height="2"/><rect x="190" y="298" width="1" height="1"/><rect x="190" y="310" width="1" height="1"/><rect x="190" y="406" width="1" height="1"/><rect x="193" y="298" width="1" height="1"/><rect x="193" y="310" width="1" height="1"/><rect x="193" y="406" width="1" height="1"/><rect x="196" y="298" width="1" height="1"/><rect x="196" y="310" width="1" height="1"/><rect x="196" y="406" width="1" height="1"/><rect x="199" y="298" width="1" height="2"/><rect x="199" y="309" width="1" height="2"/><rect x="199" y="406" width="1" height="2"/><rect x="202" y="298" width="1" height="1"/><rect x="202" y="310" width="1" height="1"/><rect x="202" y="406" width="1" height="1"/><rect x="205" y="298" width="1" height="1"/><rect x="205" y="310" width="1" height="1"/><rect x="205" y="406" width="1" height="1"/><rect x="208" y="298" width="1" height="1"/><rect x="208" y="310" width="1" height="1"/><rect x="208" y="406" width="1" height="1"/><rect x="211" y="298" width="1" height="1"/><rect x="211" y="310" width="1" height="1"/><rect x="211" y="406" width="1" height="1"/><rect x="214" y="298" width="1" height="2"/><rect x="214" y="309" width="1" height="2"/><rect x="214" y="406" width="1" height="2"/><rect x="217" y="298" width="1" height="1"/><rect x="217" y="310" width="1" height="1"/><rect x="217" y="406" width="1" height="1"/><rect x="220" y="298" width="1" height="1"/><rect x="220" y="310" width="1" height="1"/><rect x="220" y="406" width="1" height="1"/><rect x="223" y="298" width="1" height="1"/><rect x="223" y="310" width="1" height="1"/><rect x="223" y="406" width="1" height="1"/><rect x="226" y="298" width="1" height="2"/><rect x="226" y="309" width="1" height="2"/><rect x="226" y="406" width="1" height="2"/><rect x="229" y="298" width="1" height="1"/><rect x="229" y="310" width="1" height="1"/><rect x="229" y="406" width="1" height="1"/><rect x="232" y="298" width="1" height="1"/><rect x="232" y="310" width="1" height="1"/><rect x="232" y="406" width="1" height="1"/><rect x="235" y="298" width="1" height="1"/><rect x="235" y="310" width="1" height="1"/><rect x="235" y="406" width="1" height="1"/><rect x="238" y="298" width="1" height="2"/><rect x="238" y="309" width="1" height="2"/><rect x="238" y="406" width="1" height="2"/><rect x="241" y="298" width="1" height="1"/><rect x="241" y="310" width="1" height="1"/><rect x="241" y="406" width="1" height="1"/><rect x="244" y="298" width="1" height="1"/><rect x="244" y="310" width="1" height="1"/><rect x="244" y="406" width="1" height="1"/><rect x="247" y="298" width="1" height="1"/><rect x="247" y="310" width="1" height="1"/><rect x="247" y="406" width="1" height="1"/><rect x="250" y="298" width="1" height="1"/><rect x="250" y="310" width="1" height="1"/><rect x="250" y="406" width="1" height="1"/><rect x="253" y="298" width="1" height="2"/><rect x="253" y="309" width="1" height="2"/><rect x="253" y="406" width="1" height="2"/><rect x="256" y="298" width="1" height="1"/><rect x="256" y="310" width="1" height="1"/><rect x="256" y="406" width="1" height="1"/><rect x="259" y="298" width="1" height="1"/><rect x="259" y="310" width="1" height="1"/><rect x="259" y="406" width="1" height="1"/><rect x="262" y="298" width="1" height="1"/><rect x="262" y="310" width="1" height="1"/><rect x="262" y="406" width="1" height="1"/><rect x="265" y="298" width="1" height="2"/><rect x="265" y="309" width="1" height="2"/><rect x="265" y="406" width="1" height="2"/><rect x="268" y="298" width="1" height="1"/><rect x="268" y="310" width="1" height="1"/><rect x="268" y="406" width="1" height="1"/><rect x="271" y="298" width="1" height="1"/><rect x="271" y="310" width="1" height="1"/><rect x="271" y="406" width="1" height="1"/><rect x="274" y="298" width="1" height="1"/><rect x="274" y="310" width="1" height="1"/><rect x="274" y="406" width="1" height="1"/><rect x="277" y="298" width="1" height="2"/><rect x="277" y="309" width="1" height="2"/><rect x="277" y="406" width="1" height="2"/><rect x="280" y="298" width="1" height="1"/><rect x="280" y="310" width="1" height="1"/><rect x="280" y="406" width="1" height="1"/><rect x="283" y="298" width="1" height="1"/><rect x="283" y="310" width="1" height="1"/><rect x="283" y="406" width="1" height="1"/><rect x="286" y="298" width="1" height="1"/><rect x="286" y="310" width="1" height="1"/><rect x="286" y="406" width="1" height="1"/><rect x="289" y="298" width="1" height="1"/><rect x="289" y="310" width="1" height="1"/><rect x="289" y="406" width="1" height="1"/><rect x="292" y="298" width="1" height="2"/><rect x="292" y="309" width="1" height="2"/><rect x="292" y="406" width="1" height="2"/><rect x="295" y="298" width="1" height="1"/><rect x="295" y="310" width="1" height="1"/><rect x="295" y="406" width="1" height="1"/><rect x="298" y="298" width="1" height="1"/><rect x="298" y="310" width="1" height="1"/><rect x="298" y="406" width="1" height="1"/><rect x="301" y="298" width="1" height="1"/><rect x="301" y="310" width="1" height="1"/><rect x="301" y="406" width="1" height="1"/><rect x="304" y="298" width="1" height="2"/><rect x="304" y="309" width="1" height="2"/><rect x="304" y="406" width="1" height="2"/><rect x="307" y="298" width="1" height="1"/><rect x="307" y="310" width="1" height="1"/><rect x="307" y="406" width="1" height="1"/><rect x="310" y="298" width="1" height="1"/><rect x="310" y="310" width="1" height="1"/><rect x="310" y="406" width="1" height="1"/><rect x="313" y="298" width="1" height="1"/><rect x="313" y="310" width="1" height="1"/><rect x="313" y="406" width="1" height="1"/><rect x="316" y="298" width="1" height="2"/><rect x="316" y="309" width="1" height="2"/><rect x="316" y="406" width="1" height="2"/><rect x="319" y="298" width="1" height="1"/><rect x="319" y="310" width="1" height="1"/><rect x="319" y="406" width="1" height="1"/><rect x="322" y="298" width="1" height="1"/><rect x="322" y="310" width="1" height="1"/><rect x="322" y="406" width="1" height="1"/><rect x="325" y="298" width="1" height="1"/><rect x="325" y="310" width="1" height="1"/><rect x="325" y="406" width="1" height="1"/><rect x="328" y="298" width="1" height="1"/><rect x="328" y="310" width="1" height="1"/><rect x="328" y="406" width="1" height="1"/><rect x="331" y="298" width="1" height="2"/><rect x="331" y="309" width="1" height="2"/><rect x="331" y="406" width="1" height="2"/><rect x="334" y="298" width="1" height="1"/><rect x="334" y="310" width="1" height="1"/><rect x="334" y="406" width="1" height="1"/><rect x="337" y="298" width="1" height="1"/><rect x="337" y="310" width="1" height="1"/><rect x="337" y="406" width="1" height="1"/><rect x="340" y="298" width="1" height="1"/><rect x="340" y="310" width="1" height="1"/><rect x="340" y="406" width="1" height="1"/><rect x="343" y="298" width="1" height="2"/><rect x="343" y="309" width="1" height="2"/><rect x="343" y="406" width="1" height="2"/><rect x="346" y="298" width="1" height="1"/><rect x="346" y="310" width="1" height="1"/><rect x="346" y="406" width="1" height="1"/><rect x="349" y="298" width="1" height="1"/><rect x="349" y="310" width="1" height="1"/><rect x="349" y="406" width="1" height="1"/><rect x="352" y="298" width="1" height="1"/><rect x="352" y="310" width="1" height="1"/><rect x="352" y="406" width="1" height="1"/><rect x="355" y="298" width="1" height="2"/><rect x="355" y="309" width="1" height="2"/><rect x="355" y="406" width="1" height="2"/><rect x="358" y="298" width="1" height="1"/><rect x="358" y="310" width="1" height="1"/><rect x="358" y="406" width="1" height="1"/><rect x="361" y="298" width="1" height="1"/><rect x="361" y="310" width="1" height="1"/><rect x="361" y="406" width="1" height="1"/><rect x="364" y="298" width="1" height="1"/><rect x="364" y="310" width="1" height="1"/><rect x="364" y="406" width="1" height="1"/><rect x="367" y="298" width="1" height="1"/><rect x="367" y="310" width="1" height="1"/><rect x="367" y="406" width="1" height="1"/><rect x="370" y="298" width="1" height="2"/><rect x="370" y="309" width="1" height="2"/><rect x="370" y="406" width="1" height="2"/><rect x="373" y="298" width="1" height="1"/><rect x="373" y="310" width="1" height="1"/><rect x="373" y="406" width="1" height="1"/><rect x="376" y="298" width="1" height="1"/><rect x="376" y="310" width="1" height="1"/><rect x="376" y="406" width="1" height="1"/><rect x="379" y="298" width="1" height="1"/><rect x="379" y="310" width="1" height="1"/><rect x="379" y="406" width="1" height="1"/><rect x="382" y="298" width="1" height="2"/><rect x="382" y="309" width="1" height="2"/><rect x="382" y="406" width="1" height="2"/><rect x="385" y="298" width="1" height="1"/><rect x="385" y="310" width="1" height="1"/><rect x="385" y="406" width="1" height="1"/><rect x="388" y="298" width="1" height="1"/><rect x="388" y="310" width="1" height="1"/><rect x="388" y="406" width="1" height="1"/><rect x="391" y="298" width="1" height="1"/><rect x="391" y="310" width="1" height="1"/><rect x="391" y="406" width="1" height="1"/><rect x="394" y="298" width="1" height="2"/><rect x="394" y="309" width="1" height="2"/><rect x="394" y="406" width="1" height="2"/><rect x="397" y="298" width="1" height="1"/><rect x="397" y="310" width="1" height="1"/><rect x="397" y="406" width="1" height="1"/><rect x="400" y="298" width="1" height="1"/><rect x="400" y="310" width="1" height="1"/><rect x="400" y="406" width="1" height="1"/><rect x="403" y="298" width="1" height="1"/><rect x="403" y="310" width="1" height="1"/><rect x="403" y="406" width="1" height="1"/><rect x="406" y="298" width="1" height="1"/><rect x="406" y="310" width="1" height="1"/><rect x="406" y="406" width="1" height="1"/><rect x="409" y="298" width="1" height="2"/><rect x="409" y="309" width="1" height="2"/><rect x="409" y="406" width="1" height="2"/><rect x="412" y="298" width="1" height="1"/><rect x="412" y="310" width="1" height="1"/><rect x="412" y="406" width="1" height="1"/><rect x="415" y="298" width="1" height="1"/><rect x="415" y="310" width="1" height="1"/><rect x="415" y="406" width="1" height="1"/><rect x="418" y="298" width="1" height="1"/><rect x="418" y="310" width="1" height="1"/><rect x="418" y="406" width="1" height="1"/><rect x="421" y="298" width="1" height="2"/><rect x="421" y="309" width="1" height="2"/><rect x="421" y="406" width="1" height="2"/><rect x="424" y="298" width="1" height="1"/><rect x="424" y="310" width="1" height="1"/><rect x="424" y="406" width="1" height="1"/><rect x="427" y="298" width="1" height="1"/><rect x="427" y="310" width="1" height="1"/><rect x="427" y="406" width="1" height="1"/><rect x="430" y="298" width="1" height="1"/><rect x="430" y="310" width="1" height="1"/><rect x="430" y="406" width="1" height="1"/><rect x="433" y="298" width="1" height="1"/><rect x="433" y="310" width="1" height="1"/><rect x="433" y="406" width="1" height="1"/><rect x="436" y="298" width="1" height="2"/><rect x="436" y="309" width="1" height="2"/><rect x="436" y="406" width="1" height="2"/><rect x="439" y="298" width="1" height="1"/><rect x="439" y="310" width="1" height="1"/><rect x="439" y="406" width="1" height="1"/><rect x="442" y="298" width="1" height="1"/><rect x="442" y="310" width="1" height="1"/><rect x="442" y="406" width="1" height="1"/><rect x="445" y="298" width="1" height="1"/><rect x="445" y="310" width="1" height="1"/><rect x="445" y="406" width="1" height="1"/><rect x="448" y="298" width="1" height="2"/><rect x="448" y="309" width="1" height="2"/><rect x="448" y="406" width="1" height="2"/><rect x="451" y="298" width="1" height="1"/><rect x="451" y="310" width="1" height="1"/><rect x="451" y="406" width="1" height="1"/><rect x="454" y="298" width="1" height="1"/><rect x="454" y="310" width="1" height="1"/><rect x="454" y="406" width="1" height="1"/><rect x="457" y="298" width="1" height="1"/><rect x="457" y="310" width="1" height="1"/><rect x="457" y="406" width="1" height="1"/><rect x="460" y="298" width="1" height="2"/><rect x="460" y="309" width="1" height="2"/><rect x="460" y="406" width="1" height="2"/><rect x="463" y="298" width="1" height="1"/><rect x="463" y="310" width="1" height="1"/><rect x="463" y="406" width="1" height="1"/><rect x="466" y="298" width="1" height="1"/><rect x="466" y="310" width="1" height="1"/><rect x="466" y="406" width="1" height="1"/><rect x="469" y="298" width="1" height="1"/><rect x="469" y="310" width="1" height="1"/><rect x="469" y="406" width="1" height="1"/><rect x="472" y="298" width="1" height="1"/><rect x="472" y="310" width="1" height="1"/><rect x="472" y="406" width="1" height="1"/><rect x="475" y="298" width="1" height="2"/><rect x="475" y="309" width="1" height="2"/><rect x="475" y="406" width="1" height="2"/><rect x="478" y="298" width="1" height="1"/><rect x="478" y="310" width="1" height="1"/><rect x="478" y="406" width="1" height="1"/><rect x="481" y="298" width="1" height="1"/><rect x="481" y="310" width="1" height="1"/><rect x="481" y="406" width="1" height="1"/><rect x="484" y="298" width="1" height="1"/><rect x="484" y="310" width="1" height="1"/><rect x="484" y="406" width="1" height="1"/><rect x="487" y="298" width="1" height="2"/><rect x="487" y="309" width="1" height="2"/><rect x="487" y="406" width="1" height="2"/><rect x="490" y="298" width="1" height="1"/><rect x="490" y="310" width="1" height="1"/><rect x="490" y="406" width="1" height="1"/><rect x="493" y="298" width="1" height="1"/><rect x="493" y="310" width="1" height="1"/><rect x="493" y="406" width="1" height="1"/><rect x="496" y="298" width="1" height="1"/><rect x="496" y="310" width="1" height="1"/><rect x="496" y="406" width="1" height="1"/><rect x="499" y="298" width="1" height="2"/><rect x="499" y="309" width="1" height="2"/><rect x="499" y="406" width="1" height="2"/><rect x="502" y="298" width="1" height="1"/><rect x="502" y="310" width="1" height="1"/><rect x="502" y="406" width="1" height="1"/><rect x="505" y="298" width="1" height="1"/><rect x="505" y="310" width="1" height="1"/><rect x="505" y="406" width="1" height="1"/><rect x="508" y="298" width="1" height="1"/><rect x="508" y="310" width="1" height="1"/><rect x="508" y="406" width="1" height="1"/><rect x="511" y="298" width="1" height="1"/><rect x="511" y="310" width="1" height="1"/><rect x="511" y="406" width="1" height="1"/><rect x="514" y="298" width="1" height="2"/><rect x="514" y="309" width="1" height="2"/><rect x="514" y="406" width="1" height="2"/><rect x="517" y="298" width="1" height="1"/><rect x="517" y="310" width="1" height="1"/><rect x="517" y="406" width="1" height="1"/><rect x="520" y="298" width="1" height="1"/><rect x="520" y="310" width="1" height="1"/><rect x="520" y="406" width="1" height="1"/><rect x="523" y="298" width="1" height="1"/><rect x="523" y="310" width="1" height="1"/><rect x="523" y="406" width="1" height="1"/><rect x="526" y="298" width="1" height="2"/><rect x="526" y="309" width="1" height="2"/><rect x="526" y="406" width="1" height="2"/><rect x="529" y="298" width="1" height="1"/><rect x="529" y="310" width="1" height="1"/><rect x="529" y="406" width="1" height="1"/><rect x="532" y="298" width="1" height="1"/><rect x="532" y="310" width="1" height="1"/><rect x="532" y="406" width="1" height="1"/><rect x="535" y="298" width="1" height="1"/><rect x="535" y="310" width="1" height="1"/><rect x="535" y="406" width="1" height="1"/><rect x="538" y="298" width="1" height="2"/><rect x="538" y="309" width="1" height="2"/><rect x="538" y="406" width="1" height="2"/><rect x="541" y="298" width="1" height="1"/><rect x="541" y="310" width="1" height="1"/><rect x="541" y="406" width="1" height="1"/><rect x="544" y="298" width="1" height="1"/><rect x="544" y="310" width="1" height="1"/><rect x="544" y="406" width="1" height="1"/><rect x="547" y="298" width="1" height="1"/><rect x="547" y="310" width="1" height="1"/><rect x="547" y="406" width="1" height="1"/><rect x="550" y="298" width="1" height="1"/><rect x="550" y="310" width="1" height="1"/><rect x="550" y="406" width="1" height="1"/></g>
<g fill="#c4c4c4" shape-rendering="crispEdges"><rect x="557" y="288" width="2" height="1"/><rect x="557" y="284" width="1" height="1"/><rect x="557" y="280" width="1" height="1"/><rect x="557" y="276" width="1" height="1"/><rect x="557" y="272" width="1" height="1"/><rect x="557" y="269" width="2" height="1"/><rect x="557" y="265" width="1" height="1"/><rect x="557" y="261" width="1" height="1"/><rect x="557" y="257" width="1" height="1"/><rect x="557" y="253" width="1" height="1"/><rect x="557" y="249" width="2" height="1"/><rect x="557" y="245" width="1" height="1"/><rect x="557" y="241" width="1" height="1"/><rect x="557" y="237" width="1" height="1"/><rect x="557" y="233" width="1" height="1"/><rect x="557" y="229" width="2" height="1"/><rect x="557" y="226" width="1" height="1"/><rect x="557" y="222" width="1" height="1"/><rect x="557" y="218" width="1" height="1"/><rect x="557" y="214" width="1" height="1"/><rect x="557" y="210" width="2" height="1"/><rect x="557" y="206" width="1" height="1"/><rect x="557" y="202" width="1" height="1"/><rect x="557" y="198" width="1" height="1"/><rect x="557" y="194" width="1" height="1"/><rect x="557" y="190" width="2" height="1"/><rect x="557" y="186" width="1" height="1"/><rect x="557" y="183" width="1" height="1"/><rect x="557" y="179" width="1" height="1"/><rect x="557" y="175" width="1" height="1"/><rect x="557" y="171" width="2" height="1"/><rect x="557" y="167" width="1" height="1"/><rect x="557" y="163" width="1" height="1"/><rect x="557" y="159" width="1" height="1"/><rect x="557" y="155" width="1" height="1"/><rect x="557" y="151" width="2" height="1"/><rect x="557" y="147" width="1" height="1"/><rect x="557" y="144" width="1" height="1"/><rect x="557" y="140" width="1" height="1"/><rect x="557" y="136" width="1" height="1"/><rect x="557" y="132" width="2" height="1"/><rect x="557" y="128" width="1" height="1"/><rect x="557" y="124" width="1" height="1"/><rect x="557" y="120" width="1" height="1"/><rect x="557" y="116" width="1" height="1"/><rect x="557" y="112" width="2" height="1"/><rect x="557" y="108" width="1" height="1"/><rect x="557" y="104" width="1" height="1"/><rect x="557" y="101" width="1" height="1"/><rect x="557" y="97" width="1" height="1"/><rect x="557" y="93" width="2" height="1"/><rect x="557" y="89" width="1" height="1"/><rect x="557" y="85" width="1" height="1"/><rect x="557" y="81" width="1" height="1"/><rect x="557" y="77" width="1" height="1"/><rect x="557" y="73" width="2" height="1"/><rect x="557" y="69" width="1" height="1"/><rect x="557" y="65" width="1" height="1"/><rect x="557" y="61" width="1" height="1"/><rect x="557" y="58" width="1" height="1"/><rect x="557" y="54" width="2" height="1"/><rect x="557" y="50" width="1" height="1"/><rect x="557" y="46" width="1" height="1"/><rect x="557" y="42" width="1" height="1"/><rect x="557" y="38" width="1" height="1"/><rect x="557" y="34" width="2" height="1"/><rect x="557" y="30" width="1" height="1"/><rect x="557" y="398" width="1" height="1"/><rect x="557" y="394" width="1" height="1"/><rect x="557" y="390" width="2" height="1"/><rect x="557" y="386" width="1" height="1"/><rect x="557" y="382" width="1" height="1"/><rect x="557" y="378" width="1" height="1"/><rect x="557" y="374" width="2" height="1"/><rect x="557" y="370" width="1" height="1"/><rect x="557" y="366" width="1" height="1"/><rect x="557" y="362" width="1" height="1"/><rect x="557" y="358" width="2" height="1"/><rect x="557" y="354" width="1" height="1"/><rect x="557" y="350" width="1" height="1"/><rect x="557" y="346" width="1" height="1"/><rect x="557" y="342" width="2" height="1"/><rect x="557" y="338" width="1" height="1"/><rect x="557" y="334" width="1" height="1"/><rect x="557" y="330" width="1" height="1"/><rect x="557" y="326" width="2" height="1"/><rect x="557" y="322" width="1" height="1"/><rect x="557" y="318" width="1" height="1"/></g>
<g fill="#000" stroke="#000" stroke-width="0.2"><text x="560.5" y="291.3" font-size="9.9" textLength="22.8" lengthAdjust="spacingAndGlyphs">1050</text><text x="560.5" y="271.8" font-size="9.9" textLength="22.8" lengthAdjust="spacingAndGlyphs">1100</text><text x="560.5" y="252.2" font-size="9.9" textLength="22.8" lengthAdjust="spacingAndGlyphs">1150</text><text x="560.5" y="232.7" font-size="9.9" textLength="22.8" lengthAdjust="spacingAndGlyphs">1200</text><text x="560.5" y="213.1" font-size="9.9" textLength="22.8" lengthAdjust="spacingAndGlyphs">1250</text><text x="560.5" y="193.6" font-size="9.9" textLength="22.8" lengthAdjust="spacingAndGlyphs">1300</text><text x="560.5" y="174.1" font-size="9.9" textLength="22.8" lengthAdjust="spacingAndGlyphs">1350</text><text x="560.5" y="154.5" font-size="9.9" textLength="22.8" lengthAdjust="spacingAndGlyphs">1400</text><text x="560.5" y="135.0" font-size="9.9" textLength="22.8" lengthAdjust="spacingAndGlyphs">1450</text><text x="560.5" y="115.4" font-size="9.9" textLength="22.8" lengthAdjust="spacingAndGlyphs">1500</text><text x="560.5" y="95.9" font-size="9.9" textLength="22.8" lengthAdjust="spacingAndGlyphs">1550</text><text x="560.5" y="76.4" font-size="9.9" textLength="22.8" lengthAdjust="spacingAndGlyphs">1600</text><text x="560.5" y="56.8" font-size="9.9" textLength="22.8" lengthAdjust="spacingAndGlyphs">1650</text><text x="560.5" y="37.3" font-size="9.9" textLength="22.8" lengthAdjust="spacingAndGlyphs">1700</text><text x="559.5" y="392.6" font-size="9.9" textLength="12.2" lengthAdjust="spacingAndGlyphs">10</text><text x="559.5" y="376.6" font-size="9.9" textLength="12.2" lengthAdjust="spacingAndGlyphs">30</text><text x="559.5" y="360.6" font-size="9.9" textLength="12.2" lengthAdjust="spacingAndGlyphs">50</text><text x="559.5" y="344.6" font-size="9.9" textLength="12.2" lengthAdjust="spacingAndGlyphs">70</text><text x="559.5" y="328.6" font-size="9.9" textLength="12.2" lengthAdjust="spacingAndGlyphs">90</text></g>
<g fill="#000"><g transform="translate(0,308)"><text x="18.9" text-anchor="middle" font-size="11.3" font-weight="bold" stroke="#000" stroke-width="0.2">13</text><text x="32.2" text-anchor="middle" font-size="10.2" stroke="#000" stroke-width="0.12">F</text><text x="44.2" text-anchor="middle" font-size="10.2" stroke="#000" stroke-width="0.12">M</text><text x="57.5" text-anchor="middle" font-size="10.2" stroke="#000" stroke-width="0.12">A</text><text x="70.3" text-anchor="middle" font-size="10.2" stroke="#000" stroke-width="0.12">M</text><text x="83.6" text-anchor="middle" font-size="10.2" stroke="#000" stroke-width="0.12">J</text><text x="96.5" text-anchor="middle" font-size="10.2" stroke="#000" stroke-width="0.12">J</text><text x="109.8" text-anchor="middle" font-size="10.2" stroke="#000" stroke-width="0.12">A</text><text x="123.1" text-anchor="middle" font-size="10.2" stroke="#000" stroke-width="0.12">S</text><text x="135.9" text-anchor="middle" font-size="10.2" stroke="#000" stroke-width="0.12">O</text><text x="149.2" text-anchor="middle" font-size="10.2" stroke="#000" stroke-width="0.12">N</text><text x="162.1" text-anchor="middle" font-size="10.2" stroke="#000" stroke-width="0.12">D</text><text x="175.3" text-anchor="middle" font-size="11.3" font-weight="bold" stroke="#000" stroke-width="0.2">14</text><text x="188.6" text-anchor="middle" font-size="10.2" stroke="#000" stroke-width="0.12">F</text><text x="200.6" text-anchor="middle" font-size="10.2" stroke="#000" stroke-width="0.12">M</text><text x="213.9" text-anchor="middle" font-size="10.2" stroke="#000" stroke-width="0.12">A</text><text x="226.8" text-anchor="middle" font-size="10.2" stroke="#000" stroke-width="0.12">M</text><text x="240.1" text-anchor="middle" font-size="10.2" stroke="#000" stroke-width="0.12">J</text><text x="252.9" text-anchor="middle" font-size="10.2" stroke="#000" stroke-width="0.12">J</text><text x="266.2" text-anchor="middle" font-size="10.2" stroke="#000" stroke-width="0.12">A</text><text x="279.5" text-anchor="middle" font-size="10.2" stroke="#000" stroke-width="0.12">S</text><text x="292.3" text-anchor="middle" font-size="10.2" stroke="#000" stroke-width="0.12">O</text><text x="305.6" text-anchor="middle" font-size="10.2" stroke="#000" stroke-width="0.12">N</text><text x="318.5" text-anchor="middle" font-size="10.2" stroke="#000" stroke-width="0.12">D</text><text x="331.8" text-anchor="middle" font-size="11.3" font-weight="bold" stroke="#000" stroke-width="0.2">15</text><text x="345.1" text-anchor="middle" font-size="10.2" stroke="#000" stroke-width="0.12">F</text><text x="357.1" text-anchor="middle" font-size="10.2" stroke="#000" stroke-width="0.12">M</text><text x="370.3" text-anchor="middle" font-size="10.2" stroke="#000" stroke-width="0.12">A</text><text x="383.2" text-anchor="middle" font-size="10.2" stroke="#000" stroke-width="0.12">M</text><text x="396.5" text-anchor="middle" font-size="10.2" stroke="#000" stroke-width="0.12">J</text><text x="409.3" text-anchor="middle" font-size="10.2" stroke="#000" stroke-width="0.12">J</text><text x="422.6" text-anchor="middle" font-size="10.2" stroke="#000" stroke-width="0.12">A</text><text x="435.9" text-anchor="middle" font-size="10.2" stroke="#000" stroke-width="0.12">S</text><text x="448.8" text-anchor="middle" font-size="10.2" stroke="#000" stroke-width="0.12">O</text><text x="462.1" text-anchor="middle" font-size="10.2" stroke="#000" stroke-width="0.12">N</text><text x="474.9" text-anchor="middle" font-size="10.2" stroke="#000" stroke-width="0.12">D</text><text x="488.2" text-anchor="middle" font-size="11.3" font-weight="bold" stroke="#000" stroke-width="0.2">16</text><text x="501.5" text-anchor="middle" font-size="10.2" stroke="#000" stroke-width="0.12">F</text><text x="513.9" text-anchor="middle" font-size="10.2" stroke="#000" stroke-width="0.12">M</text><text x="527.2" text-anchor="middle" font-size="10.2" stroke="#000" stroke-width="0.12">A</text><text x="540.1" text-anchor="middle" font-size="10.2" stroke="#000" stroke-width="0.12">M</text></g><g transform="translate(0,416)"><text x="18.9" text-anchor="middle" font-size="11.3" font-weight="bold" stroke="#000" stroke-width="0.2">13</text><text x="32.2" text-anchor="middle" font-size="10.2" stroke="#000" stroke-width="0.12">F</text><text x="44.2" text-anchor="middle" font-size="10.2" stroke="#000" stroke-width="0.12">M</text><text x="57.5" text-anchor="middle" font-size="10.2" stroke="#000" stroke-width="0.12">A</text><text x="70.3" text-anchor="middle" font-size="10.2" stroke="#000" stroke-width="0.12">M</text><text x="83.6" text-anchor="middle" font-size="10.2" stroke="#000" stroke-width="0.12">J</text><text x="96.5" text-anchor="middle" font-size="10.2" stroke="#000" stroke-width="0.12">J</text><text x="109.8" text-anchor="middle" font-size="10.2" stroke="#000" stroke-width="0.12">A</text><text x="123.1" text-anchor="middle" font-size="10.2" stroke="#000" stroke-width="0.12">S</text><text x="135.9" text-anchor="middle" font-size="10.2" stroke="#000" stroke-width="0.12">O</text><text x="149.2" text-anchor="middle" font-size="10.2" stroke="#000" stroke-width="0.12">N</text><text x="162.1" text-anchor="middle" font-size="10.2" stroke="#000" stroke-width="0.12">D</text><text x="175.3" text-anchor="middle" font-size="11.3" font-weight="bold" stroke="#000" stroke-width="0.2">14</text><text x="188.6" text-anchor="middle" font-size="10.2" stroke="#000" stroke-width="0.12">F</text><text x="200.6" text-anchor="middle" font-size="10.2" stroke="#000" stroke-width="0.12">M</text><text x="213.9" text-anchor="middle" font-size="10.2" stroke="#000" stroke-width="0.12">A</text><text x="226.8" text-anchor="middle" font-size="10.2" stroke="#000" stroke-width="0.12">M</text><text x="240.1" text-anchor="middle" font-size="10.2" stroke="#000" stroke-width="0.12">J</text><text x="252.9" text-anchor="middle" font-size="10.2" stroke="#000" stroke-width="0.12">J</text><text x="266.2" text-anchor="middle" font-size="10.2" stroke="#000" stroke-width="0.12">A</text><text x="279.5" text-anchor="middle" font-size="10.2" stroke="#000" stroke-width="0.12">S</text><text x="292.3" text-anchor="middle" font-size="10.2" stroke="#000" stroke-width="0.12">O</text><text x="305.6" text-anchor="middle" font-size="10.2" stroke="#000" stroke-width="0.12">N</text><text x="318.5" text-anchor="middle" font-size="10.2" stroke="#000" stroke-width="0.12">D</text><text x="331.8" text-anchor="middle" font-size="11.3" font-weight="bold" stroke="#000" stroke-width="0.2">15</text><text x="345.1" text-anchor="middle" font-size="10.2" stroke="#000" stroke-width="0.12">F</text><text x="357.1" text-anchor="middle" font-size="10.2" stroke="#000" stroke-width="0.12">M</text><text x="370.3" text-anchor="middle" font-size="10.2" stroke="#000" stroke-width="0.12">A</text><text x="383.2" text-anchor="middle" font-size="10.2" stroke="#000" stroke-width="0.12">M</text><text x="396.5" text-anchor="middle" font-size="10.2" stroke="#000" stroke-width="0.12">J</text><text x="409.3" text-anchor="middle" font-size="10.2" stroke="#000" stroke-width="0.12">J</text><text x="422.6" text-anchor="middle" font-size="10.2" stroke="#000" stroke-width="0.12">A</text><text x="435.9" text-anchor="middle" font-size="10.2" stroke="#000" stroke-width="0.12">S</text><text x="448.8" text-anchor="middle" font-size="10.2" stroke="#000" stroke-width="0.12">O</text><text x="462.1" text-anchor="middle" font-size="10.2" stroke="#000" stroke-width="0.12">N</text><text x="474.9" text-anchor="middle" font-size="10.2" stroke="#000" stroke-width="0.12">D</text><text x="488.2" text-anchor="middle" font-size="11.3" font-weight="bold" stroke="#000" stroke-width="0.2">16</text><text x="501.5" text-anchor="middle" font-size="10.2" stroke="#000" stroke-width="0.12">F</text><text x="513.9" text-anchor="middle" font-size="10.2" stroke="#000" stroke-width="0.12">M</text><text x="527.2" text-anchor="middle" font-size="10.2" stroke="#000" stroke-width="0.12">A</text><text x="540.1" text-anchor="middle" font-size="10.2" stroke="#000" stroke-width="0.12">M</text></g></g>
<g clip-path="url(#cr)">
<defs><clipPath id="above"><rect x="17" y="312" width="539" height="30"/></clipPath><clipPath id="below"><rect x="17" y="374" width="539" height="31"/></clipPath></defs>
<polygon points="19.5,342 19.5,361.11 22.5,360.02 25.5,362.32 28.5,360.74 31.5,362.30 34.5,368.38 37.5,371.37 40.5,371.58 43.5,371.59 46.5,368.50 49.5,365.53 52.5,366.27 55.5,368.90 58.5,377.50 61.5,381.41 64.5,372.75 67.5,371.86 70.5,373.47 73.5,378.47 76.5,374.59 79.5,374.29 82.5,374.34 85.5,373.12 88.5,377.98 91.5,380.89 94.5,381.44 97.5,372.61 100.5,371.89 103.5,367.95 106.5,369.01 109.5,368.18 112.5,362.31 115.5,360.42 118.5,360.44 121.5,360.70 124.5,366.16 127.5,366.60 130.5,364.50 133.5,366.89 136.5,370.52 139.5,364.76 142.5,360.53 145.5,364.38 148.5,366.60 151.5,366.05 154.5,369.96 157.5,367.76 160.5,370.10 163.5,369.19 166.5,371.59 169.5,370.04 172.5,367.13 175.5,365.41 178.5,364.47 181.5,361.92 184.5,364.52 187.5,361.09 190.5,354.88 193.5,354.35 196.5,354.19 199.5,352.95 202.5,348.53 205.5,355.45 208.5,359.97 211.5,358.66 214.5,356.73 217.5,359.79 220.5,358.57 223.5,360.18 226.5,360.85 229.5,359.65 232.5,359.76 235.5,365.82 238.5,366.02 241.5,361.73 244.5,356.16 247.5,355.32 250.5,355.48 253.5,352.42 256.5,356.91 259.5,359.82 262.5,359.57 265.5,356.54 268.5,359.12 271.5,362.11 274.5,360.41 277.5,363.78 280.5,369.24 283.5,370.25 286.5,369.98 289.5,374.21 292.5,367.11 295.5,364.15 298.5,365.41 301.5,371.81 304.5,370.78 307.5,368.52 310.5,366.28 313.5,370.80 316.5,365.47 319.5,360.99 322.5,364.55 325.5,363.30 328.5,364.13 331.5,359.25 334.5,351.70 337.5,350.20 340.5,352.26 343.5,358.98 346.5,359.82 349.5,363.28 352.5,361.23 355.5,366.65 358.5,367.20 361.5,364.13 364.5,362.19 367.5,361.64 370.5,359.39 373.5,360.78 376.5,363.84 379.5,363.70 382.5,362.02 385.5,356.18 388.5,358.79 391.5,361.32 394.5,363.55 397.5,361.92 400.5,359.55 403.5,362.90 406.5,365.04 409.5,365.34 412.5,369.69 415.5,373.12 418.5,373.08 421.5,373.47 424.5,368.13 427.5,359.20 430.5,363.33 433.5,365.16 436.5,366.74 439.5,361.31 442.5,360.21 445.5,361.88 448.5,358.29 451.5,354.74 454.5,357.72 457.5,360.64 460.5,367.49 463.5,368.14 466.5,369.10 469.5,371.32 472.5,365.41 475.5,366.87 478.5,368.08 481.5,365.62 484.5,367.40 487.5,359.80 490.5,361.86 493.5,360.28 496.5,356.78 499.5,349.92 502.5,344.21 505.5,346.28 508.5,346.51 511.5,343.62 514.5,345.12 517.5,344.60 520.5,351.64 523.5,350.95 526.5,348.16 529.5,349.57 532.5,350.27 535.5,343.77 538.5,344.97 541.5,348.10 544.5,351.59 547.5,357.34 550.5,353.29 550.5,342" fill="#2e8a2e" fill-opacity="0.62" clip-path="url(#above)"/>
<polygon points="19.5,374 19.5,361.11 22.5,360.02 25.5,362.32 28.5,360.74 31.5,362.30 34.5,368.38 37.5,371.37 40.5,371.58 43.5,371.59 46.5,368.50 49.5,365.53 52.5,366.27 55.5,368.90 58.5,377.50 61.5,381.41 64.5,372.75 67.5,371.86 70.5,373.47 73.5,378.47 76.5,374.59 79.5,374.29 82.5,374.34 85.5,373.12 88.5,377.98 91.5,380.89 94.5,381.44 97.5,372.61 100.5,371.89 103.5,367.95 106.5,369.01 109.5,368.18 112.5,362.31 115.5,360.42 118.5,360.44 121.5,360.70 124.5,366.16 127.5,366.60 130.5,364.50 133.5,366.89 136.5,370.52 139.5,364.76 142.5,360.53 145.5,364.38 148.5,366.60 151.5,366.05 154.5,369.96 157.5,367.76 160.5,370.10 163.5,369.19 166.5,371.59 169.5,370.04 172.5,367.13 175.5,365.41 178.5,364.47 181.5,361.92 184.5,364.52 187.5,361.09 190.5,354.88 193.5,354.35 196.5,354.19 199.5,352.95 202.5,348.53 205.5,355.45 208.5,359.97 211.5,358.66 214.5,356.73 217.5,359.79 220.5,358.57 223.5,360.18 226.5,360.85 229.5,359.65 232.5,359.76 235.5,365.82 238.5,366.02 241.5,361.73 244.5,356.16 247.5,355.32 250.5,355.48 253.5,352.42 256.5,356.91 259.5,359.82 262.5,359.57 265.5,356.54 268.5,359.12 271.5,362.11 274.5,360.41 277.5,363.78 280.5,369.24 283.5,370.25 286.5,369.98 289.5,374.21 292.5,367.11 295.5,364.15 298.5,365.41 301.5,371.81 304.5,370.78 307.5,368.52 310.5,366.28 313.5,370.80 316.5,365.47 319.5,360.99 322.5,364.55 325.5,363.30 328.5,364.13 331.5,359.25 334.5,351.70 337.5,350.20 340.5,352.26 343.5,358.98 346.5,359.82 349.5,363.28 352.5,361.23 355.5,366.65 358.5,367.20 361.5,364.13 364.5,362.19 367.5,361.64 370.5,359.39 373.5,360.78 376.5,363.84 379.5,363.70 382.5,362.02 385.5,356.18 388.5,358.79 391.5,361.32 394.5,363.55 397.5,361.92 400.5,359.55 403.5,362.90 406.5,365.04 409.5,365.34 412.5,369.69 415.5,373.12 418.5,373.08 421.5,373.47 424.5,368.13 427.5,359.20 430.5,363.33 433.5,365.16 436.5,366.74 439.5,361.31 442.5,360.21 445.5,361.88 448.5,358.29 451.5,354.74 454.5,357.72 457.5,360.64 460.5,367.49 463.5,368.14 466.5,369.10 469.5,371.32 472.5,365.41 475.5,366.87 478.5,368.08 481.5,365.62 484.5,367.40 487.5,359.80 490.5,361.86 493.5,360.28 496.5,356.78 499.5,349.92 502.5,344.21 505.5,346.28 508.5,346.51 511.5,343.62 514.5,345.12 517.5,344.60 520.5,351.64 523.5,350.95 526.5,348.16 529.5,349.57 532.5,350.27 535.5,343.77 538.5,344.97 541.5,348.10 544.5,351.59 547.5,357.34 550.5,353.29 550.5,374" fill="#2e8a2e" fill-opacity="0.62" clip-path="url(#below)"/>
<line x1="17" y1="342.6" x2="556" y2="342.6" stroke="#157015" stroke-width="1.4"/><line x1="17" y1="374.6" x2="556" y2="374.6" stroke="#157015" stroke-width="1.4"/>
<line x1="17" y1="358.6" x2="556" y2="358.6" stroke="#157015" stroke-width="1.4" stroke-dasharray="8,2.5,2,2.5" stroke-dashoffset="13.5"/>
<polyline points="16,363 19.5,361.11 22.5,360.02 25.5,362.32 28.5,360.74 31.5,362.30 34.5,368.38 37.5,371.37 40.5,371.58 43.5,371.59 46.5,368.50 49.5,365.53 52.5,366.27 55.5,368.90 58.5,377.50 61.5,381.41 64.5,372.75 67.5,371.86 70.5,373.47 73.5,378.47 76.5,374.59 79.5,374.29 82.5,374.34 85.5,373.12 88.5,377.98 91.5,380.89 94.5,381.44 97.5,372.61 100.5,371.89 103.5,367.95 106.5,369.01 109.5,368.18 112.5,362.31 115.5,360.42 118.5,360.44 121.5,360.70 124.5,366.16 127.5,366.60 130.5,364.50 133.5,366.89 136.5,370.52 139.5,364.76 142.5,360.53 145.5,364.38 148.5,366.60 151.5,366.05 154.5,369.96 157.5,367.76 160.5,370.10 163.5,369.19 166.5,371.59 169.5,370.04 172.5,367.13 175.5,365.41 178.5,364.47 181.5,361.92 184.5,364.52 187.5,361.09 190.5,354.88 193.5,354.35 196.5,354.19 199.5,352.95 202.5,348.53 205.5,355.45 208.5,359.97 211.5,358.66 214.5,356.73 217.5,359.79 220.5,358.57 223.5,360.18 226.5,360.85 229.5,359.65 232.5,359.76 235.5,365.82 238.5,366.02 241.5,361.73 244.5,356.16 247.5,355.32 250.5,355.48 253.5,352.42 256.5,356.91 259.5,359.82 262.5,359.57 265.5,356.54 268.5,359.12 271.5,362.11 274.5,360.41 277.5,363.78 280.5,369.24 283.5,370.25 286.5,369.98 289.5,374.21 292.5,367.11 295.5,364.15 298.5,365.41 301.5,371.81 304.5,370.78 307.5,368.52 310.5,366.28 313.5,370.80 316.5,365.47 319.5,360.99 322.5,364.55 325.5,363.30 328.5,364.13 331.5,359.25 334.5,351.70 337.5,350.20 340.5,352.26 343.5,358.98 346.5,359.82 349.5,363.28 352.5,361.23 355.5,366.65 358.5,367.20 361.5,364.13 364.5,362.19 367.5,361.64 370.5,359.39 373.5,360.78 376.5,363.84 379.5,363.70 382.5,362.02 385.5,356.18 388.5,358.79 391.5,361.32 394.5,363.55 397.5,361.92 400.5,359.55 403.5,362.90 406.5,365.04 409.5,365.34 412.5,369.69 415.5,373.12 418.5,373.08 421.5,373.47 424.5,368.13 427.5,359.20 430.5,363.33 433.5,365.16 436.5,366.74 439.5,361.31 442.5,360.21 445.5,361.88 448.5,358.29 451.5,354.74 454.5,357.72 457.5,360.64 460.5,367.49 463.5,368.14 466.5,369.10 469.5,371.32 472.5,365.41 475.5,366.87 478.5,368.08 481.5,365.62 484.5,367.40 487.5,359.80 490.5,361.86 493.5,360.28 496.5,356.78 499.5,349.92 502.5,344.21 505.5,346.28 508.5,346.51 511.5,343.62 514.5,345.12 517.5,344.60 520.5,351.64 523.5,350.95 526.5,348.16 529.5,349.57 532.5,350.27 535.5,343.77 538.5,344.97 541.5,348.10 544.5,351.59 547.5,357.34 550.5,353.29" fill="none" stroke="#006400" stroke-width="1.5"/>
<polyline points="16,357 19.5,358.30 22.5,358.46 25.5,358.83 28.5,359.01 31.5,359.32 34.5,360.19 37.5,361.25 40.5,362.24 43.5,363.13 46.5,363.64 49.5,363.82 52.5,364.05 55.5,364.51 58.5,365.75 61.5,367.24 64.5,367.77 67.5,368.16 70.5,368.66 73.5,369.60 76.5,370.07 79.5,370.47 82.5,370.84 85.5,371.06 88.5,371.72 91.5,372.59 94.5,373.43 97.5,373.36 100.5,373.22 103.5,372.71 106.5,372.36 109.5,371.96 112.5,371.04 115.5,370.03 118.5,369.12 121.5,368.32 124.5,368.11 127.5,367.97 130.5,367.64 133.5,367.57 136.5,367.85 139.5,367.55 142.5,366.88 145.5,366.65 148.5,366.64 151.5,366.59 154.5,366.91 157.5,366.99 160.5,367.28 163.5,367.47 166.5,367.86 169.5,368.07 172.5,367.98 175.5,367.73 178.5,367.42 181.5,366.90 184.5,366.67 187.5,366.14 190.5,365.07 193.5,364.05 196.5,363.11 199.5,362.14 202.5,360.84 205.5,360.33 208.5,360.30 211.5,360.14 214.5,359.82 217.5,359.81 220.5,359.69 223.5,359.74 226.5,359.85 229.5,359.83 232.5,359.82 235.5,360.39 238.5,360.93 241.5,361.01 244.5,360.54 247.5,360.05 250.5,359.61 253.5,358.93 256.5,358.73 259.5,358.84 262.5,358.91 265.5,358.68 268.5,358.72 271.5,359.05 274.5,359.18 277.5,359.61 280.5,360.53 283.5,361.46 286.5,362.27 289.5,363.41 292.5,363.76 295.5,363.80 298.5,363.95 301.5,364.70 304.5,365.28 307.5,365.59 310.5,365.65 313.5,366.14 316.5,366.08 319.5,365.59 322.5,365.49 325.5,365.29 328.5,365.18 331.5,364.61 334.5,363.38 337.5,362.13 340.5,361.19 343.5,360.98 346.5,360.87 349.5,361.10 352.5,361.11 355.5,361.64 358.5,362.17 361.5,362.35 364.5,362.34 367.5,362.27 370.5,362.00 373.5,361.88 376.5,362.07 379.5,362.22 382.5,362.20 385.5,361.63 388.5,361.36 391.5,361.35 394.5,361.56 397.5,361.60 400.5,361.40 403.5,361.55 406.5,361.88 409.5,362.21 412.5,362.92 415.5,363.89 418.5,364.77 421.5,365.60 424.5,365.84 427.5,365.21 430.5,365.03 433.5,365.04 436.5,365.20 439.5,364.83 442.5,364.39 445.5,364.15 448.5,363.59 451.5,362.75 454.5,362.27 457.5,362.12 460.5,362.63 463.5,363.15 466.5,363.72 469.5,364.44 472.5,364.53 475.5,364.76 478.5,365.07 481.5,365.13 484.5,365.34 487.5,364.81 490.5,364.53 493.5,364.13 496.5,363.43 499.5,362.14 502.5,360.43 505.5,359.09 508.5,357.89 511.5,356.53 514.5,355.44 517.5,354.41 520.5,354.15 523.5,353.84 526.5,353.30 529.5,352.94 532.5,352.69 535.5,351.84 538.5,351.19 541.5,350.89 544.5,350.96 547.5,351.57 550.5,351.73" fill="none" stroke="#00008c" stroke-width="1.7"/>
</g>
<path d="M19.5,321.5L19.5,318.5L21.5,315.5L23.5,313.5L25.5,318.5L27.5,315.5L27.5,321.5Z" fill="#80b880" stroke="#0a640a" stroke-width="1.1"/>
<rect x="19" y="328" width="9" height="2" fill="#000096"/>
<path d="M549,25.5l3.5,-4.5l3.5,4.5z" fill="#2a7a2a"/>
<g><text id="t_gold" x="16.70" y="13.8" font-size="13.8" font-weight="bold" fill="#000" textLength="42.60" lengthAdjust="spacingAndGlyphs">$GOLD</text><text id="t_desc" x="63.10" y="13" font-size="10.5" font-weight="normal" fill="#000" textLength="113.40" lengthAdjust="spacing">Gold - Spot Price (EOD)</text><text id="t_cme" x="181.10" y="13" font-size="9.6" font-weight="normal" fill="#000" textLength="22.40" lengthAdjust="spacing">CME</text><text id="t_sc" x="466.50" y="13" font-size="10.5" font-weight="normal" fill="#454545" textLength="90.00" lengthAdjust="spacing">© StockCharts.com</text><text id="t_date" x="15.50" y="25.8" font-size="10" font-weight="normal" fill="#000" textLength="53.00" lengthAdjust="spacingAndGlyphs">3-Jun-2016</text><text id="t_op" x="139.50" y="25.8" font-size="10.6" font-weight="bold" fill="#000" textLength="14.00" lengthAdjust="spacingAndGlyphs">Op</text><text id="t_opv" x="158.50" y="25.8" font-size="10" font-weight="normal" fill="#000" textLength="37.00" lengthAdjust="spacingAndGlyphs">1215.10</text><text id="t_hi" x="202.50" y="25.8" font-size="10.6" font-weight="bold" fill="#000" textLength="10.00" lengthAdjust="spacingAndGlyphs">Hi</text><text id="t_hiv" x="215.50" y="25.8" font-size="10" font-weight="normal" fill="#000" textLength="37.00" lengthAdjust="spacingAndGlyphs">1247.40</text><text id="t_lo" x="259.50" y="25.8" font-size="10.6" font-weight="bold" fill="#000" textLength="15.00" lengthAdjust="spacingAndGlyphs">Lo</text><text id="t_lov" x="278.50" y="25.8" font-size="10" font-weight="normal" fill="#000" textLength="37.00" lengthAdjust="spacingAndGlyphs">1201.50</text><text id="t_cl" x="322.50" y="25.8" font-size="10.6" font-weight="bold" fill="#000" textLength="11.00" lengthAdjust="spacingAndGlyphs">Cl</text><text id="t_clv" x="337.50" y="25.8" font-size="10" font-weight="normal" fill="#000" textLength="37.00" lengthAdjust="spacingAndGlyphs">1246.50</text><text id="t_vol" x="382.50" y="25.8" font-size="10.6" font-weight="bold" fill="#000" textLength="18.00" lengthAdjust="spacingAndGlyphs">Vol</text><text id="t_volv" x="402.50" y="25.8" font-size="10" font-weight="normal" fill="#000" textLength="34.00" lengthAdjust="spacingAndGlyphs">715.0K</text><text id="t_chg" x="442.50" y="25.8" font-size="10.6" font-weight="bold" fill="#000" textLength="22.00" lengthAdjust="spacingAndGlyphs">Chg</text><text id="t_chgv" x="467.50" y="25.8" font-size="10" font-weight="normal" fill="#000" textLength="79.00" lengthAdjust="spacingAndGlyphs">+31.20 (+2.57%)</text><text id="t_leg1" stroke="#000" stroke-width="0.15" x="32.50" y="39.7" font-size="10.3" font-weight="normal" fill="#000" textLength="141.00" lengthAdjust="spacing">$GOLD (Weekly) 1246.50</text><text id="t_leg2" x="29.50" y="50.3" font-size="9.7" font-weight="normal" fill="#ff5a00" textLength="75.00" lengthAdjust="spacing">EMA(75) 1198.52</text><text id="t_rsi1" stroke="#000" stroke-width="0.15" x="31.10" y="322.3" font-size="10.3" font-weight="normal" fill="#000" textLength="79.40" lengthAdjust="spacing">RSI(14) 56.28</text><text id="t_rsi2" stroke="#00008a" stroke-width="0.15" x="29.10" y="332.6" font-size="9.7" font-weight="normal" fill="#00008a" textLength="65.40" lengthAdjust="spacing">EMA(20) 58.44</text></g>
</svg></body></html>
